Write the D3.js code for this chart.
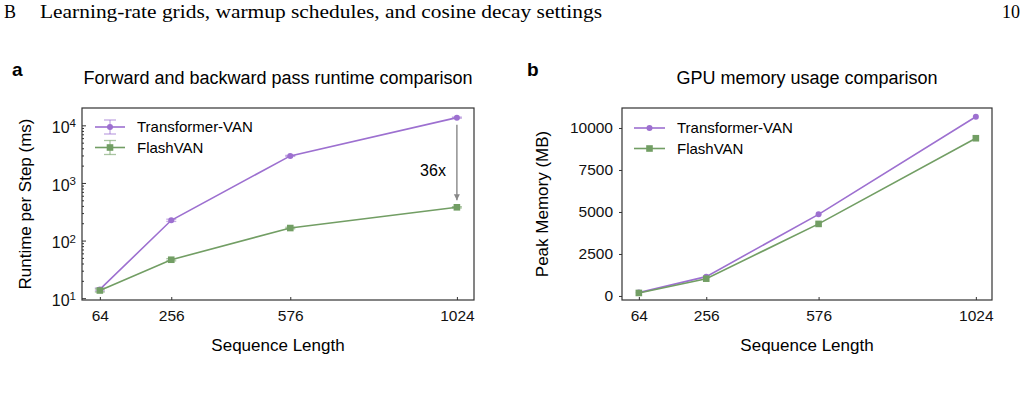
<!DOCTYPE html>
<html><head><meta charset="utf-8">
<script src="https://cdn.jsdelivr.net/npm/d3@7"></script>
<style>body{margin:0;background:#fff}svg{display:block}</style>
</head><body>
<svg id="c" width="1027" height="409"></svg>
<script>
const seqLen = [64, 256, 576, 1024];
const xTicks = [64, 256, 576, 1024];
const runtimeTransformer = [14.2, 225, 2950, 13600];
const runtimeFlash = [13.6, 46.5, 165, 378];
const runtimeTransformerErr = [0.8, 10, 60, 300];
const runtimeFlashErr = [0.8, 2, 5, 10];
const memTransformer = [200, 1150, 4860, 10670];
const memFlash = [180, 1030, 4290, 9390];
const memTicks = [0, 2500, 5000, 7500, 10000];
const logTicks = [10, 100, 1000, 10000];
const seriesNames = ["Transformer-VAN", "FlashVAN"];
const speedupLabel = "36x";

const purple = "#9d70d0", green = "#729e64", frame = "#333";
const sans = "'Liberation Sans', Arial, sans-serif";
const svg = d3.select("#c");

// header
svg.append("text").attr("x", 4).attr("y", 18).attr("font-family", "'Liberation Serif', serif")
  .attr("font-size", 18).text("B");
svg.append("text").attr("x", 40).attr("y", 18).attr("font-family", "'Liberation Serif', serif")
  .attr("font-size", 18).attr("textLength", 562).attr("lengthAdjust", "spacingAndGlyphs")
  .text("Learning-rate grids, warmup schedules, and cosine decay settings");
svg.append("text").attr("x", 1020).attr("y", 18).attr("text-anchor", "end").attr("font-family", "'Liberation Serif', serif")
  .attr("font-size", 18).text("10");

function panel(o) {
  const g = svg.append("g");
  const x = d3.scaleLinear().domain([16, 1070]).range([o.left, o.right]);
  const y = o.y;
  g.append("text").attr("x", o.labelX).attr("y", 76).attr("font-family", sans).attr("font-weight", "bold")
    .attr("font-size", 19).text(o.letter);
  g.append("text").attr("x", (o.left + o.right) / 2).attr("y", 84).attr("text-anchor", "middle")
    .attr("font-family", sans).attr("font-size", 18).text(o.title);
  // x axis
  const xa = g.append("g").attr("transform", `translate(0,${o.bottom})`)
    .call(d3.axisBottom(x).tickValues(xTicks).tickSize(-3).tickPadding(10).tickFormat(d3.format("d")));
  xa.select(".domain").remove();
  xa.selectAll("text").attr("font-family", sans).attr("font-size", 15.5).attr("fill", "#111");
  xa.selectAll("line").attr("stroke", frame);
  g.append("text").attr("x", (o.left + o.right) / 2).attr("y", 351).attr("text-anchor", "middle")
    .attr("font-family", sans).attr("font-size", 17).text("Sequence Length");
  g.append("text").attr("transform", `translate(${o.ylabX},${(o.top + o.bottom) / 2}) rotate(-90)`)
    .attr("text-anchor", "middle").attr("font-family", sans).attr("font-size", 17).text(o.ylabel);
  o.yAxis(g, y);
  g.append("rect").attr("x", o.left).attr("y", o.top).attr("width", o.right - o.left).attr("height", o.bottom - o.top)
    .attr("fill", "none").attr("stroke", frame).attr("stroke-width", 1.2);
  const line = d3.line().x((d, i) => x(seqLen[i])).y(d => y(d));
  const series = [{v: o.a, c: purple, m: "circle"}, {v: o.b, c: green, m: "square"}];
  series.forEach((s, si) => {
    if (o.err) {
      const e = o.err[si];
      s.v.forEach((d, i) => {
        const cx = x(seqLen[i]);
        const y1 = y(d - e[i]), y2 = y(d + e[i]);
        g.append("line").attr("x1", cx).attr("x2", cx).attr("y1", y1).attr("y2", y2).attr("stroke", s.c).attr("stroke-opacity", 0.6).attr("stroke-width", 1.3);
        [y1, y2].forEach(yy => g.append("line").attr("x1", cx - 5).attr("x2", cx + 5).attr("y1", yy).attr("y2", yy).attr("stroke", s.c).attr("stroke-opacity", 0.6).attr("stroke-width", 1.3));
      });
    }
    g.append("path").attr("d", line(s.v)).attr("fill", "none").attr("stroke", s.c).attr("stroke-width", 1.6);
    s.v.forEach((d, i) => marker(g, s.m, x(seqLen[i]), y(d), s.c));
  });
  // legend
  seriesNames.forEach((n, i) => {
    const ly = o.legY + i * 20.5;
    const cx = (o.legX0 + o.legX1) / 2;
    const c = i === 0 ? purple : green;
    if (o.err) {
      g.append("line").attr("x1", cx).attr("x2", cx).attr("y1", ly - 7).attr("y2", ly + 7).attr("stroke", c).attr("stroke-opacity", 0.6).attr("stroke-width", 1.3);
      [ly - 7, ly + 7].forEach(yy => g.append("line").attr("x1", cx - 6).attr("x2", cx + 6).attr("y1", yy).attr("y2", yy).attr("stroke", c).attr("stroke-opacity", 0.6).attr("stroke-width", 1.3));
    }
    g.append("line").attr("x1", o.legX0).attr("x2", o.legX1).attr("y1", ly).attr("y2", ly).attr("stroke", c).attr("stroke-width", 1.6);
    marker(g, i === 0 ? "circle" : "square", cx, ly, c);
    g.append("text").attr("x", o.legX1 + 12).attr("y", ly + 5).attr("font-family", sans).attr("font-size", 15).text(n);
  });
  return {g, x, y};
}
function marker(g, m, cx, cy, c) {
  if (m === "circle") g.append("circle").attr("cx", cx).attr("cy", cy).attr("r", 3).attr("fill", c);
  else g.append("rect").attr("x", cx - 3.3).attr("y", cy - 3.3).attr("width", 6.6).attr("height", 6.6).attr("fill", c);
}

// panel a
const yLog = d3.scaleLog().domain([9.3, 20000]).range([300, 108]);
const pa = panel({
  letter: "a", labelX: 12, title: "Forward and backward pass runtime comparison",
  left: 82, right: 474, top: 108, bottom: 300, y: yLog, ylabX: 31, ylabel: "Runtime per Step (ms)",
  a: runtimeTransformer, b: runtimeFlash, err: [runtimeTransformerErr, runtimeFlashErr],
  legX0: 95, legX1: 125, legY: 127,
  yAxis: (g, y) => {
    const minors = [];
    for (let e = 0; e <= 4; e++) for (let k = 2; k <= 9; k++) { const v = k * Math.pow(10, e); if (v > 9.3 && v < 20000) minors.push(v); }
    g.append("g").attr("transform", "translate(82,0)").call(d3.axisLeft(y).tickValues(minors).tickSize(-2).tickFormat(""))
      .call(a => a.select(".domain").remove()).selectAll("line").attr("stroke", frame);
    const ya = g.append("g").attr("transform", "translate(82,0)")
      .call(d3.axisLeft(y).tickValues(logTicks).tickSize(-4).tickPadding(10).tickFormat(""));
    ya.select(".domain").remove();
    ya.selectAll("line").attr("stroke", frame);
    ya.selectAll(".tick").each(function(d) {
      const t = d3.select(this).append("text").attr("x", -6).attr("dy", "0.45em").attr("text-anchor", "end")
        .attr("font-family", sans).attr("font-size", 16).attr("fill", "#111");
      t.append("tspan").text("10");
      t.append("tspan").attr("dy", "-0.5em").attr("font-size", 11.5).text(Math.round(Math.log10(d)));
    });
  }
});
// annotation
{
  const ax = pa.x(1024);
  const defs = svg.append("defs");
  defs.append("marker").attr("id", "arr").attr("viewBox", "0 0 10 10").attr("refX", 10).attr("refY", 5)
    .attr("markerWidth", 6).attr("markerHeight", 7).attr("markerUnits", "userSpaceOnUse").attr("orient", "auto")
    .append("path").attr("d", "M0,0 L10,5 L0,10 Z").attr("fill", "#888");
  svg.append("line").attr("x1", ax).attr("x2", ax).attr("y1", pa.y(runtimeTransformer[3]) + 7).attr("y2", pa.y(runtimeFlash[3]) - 7)
    .attr("stroke", "#888").attr("stroke-width", 1.4).attr("marker-end", "url(#arr)");
  svg.append("text").attr("x", 433).attr("y", 176).attr("text-anchor", "middle").attr("font-family", sans)
    .attr("font-size", 16).text(speedupLabel);
}

// panel b
const yLin = d3.scaleLinear().domain([-240, 11190]).range([300, 108]);
panel({
  letter: "b", labelX: 527, title: "GPU memory usage comparison",
  left: 622, right: 992, top: 108, bottom: 300, y: yLin, ylabX: 548, ylabel: "Peak Memory (MB)",
  a: memTransformer, b: memFlash, err: null,
  legX0: 634, legX1: 665, legY: 128,
  yAxis: (g, y) => {
    const ya = g.append("g").attr("transform", "translate(622,0)")
      .call(d3.axisLeft(y).tickValues(memTicks).tickSize(3).tickPadding(6).tickFormat(d3.format("d")));
    ya.select(".domain").remove();
    ya.selectAll("line").attr("stroke", frame);
    ya.selectAll("text").attr("font-family", sans).attr("font-size", 15.5).attr("fill", "#111");
  }
});
</script>
</body></html>
